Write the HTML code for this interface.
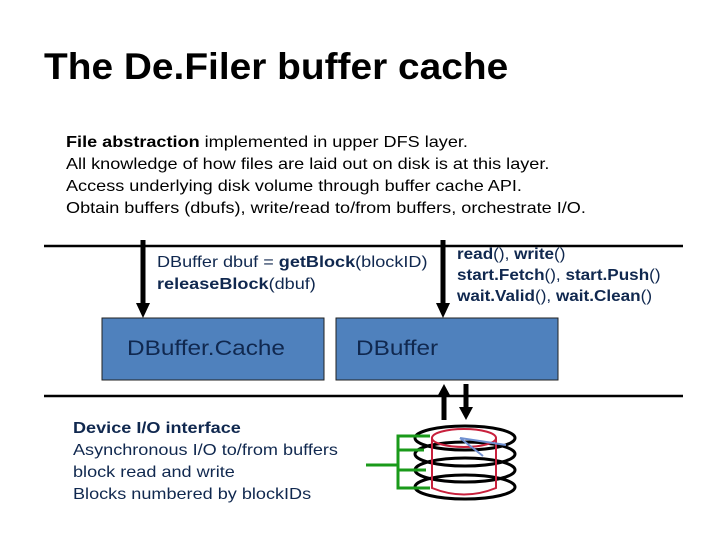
<!DOCTYPE html><html><head><style>
body{margin:0;width:720px;height:540px;background:#fff;position:relative;font-family:"Liberation Sans",sans-serif;overflow:hidden}
.t{position:absolute;white-space:nowrap;transform-origin:0 0}
</style></head><body>
<div class="t" style="left:44px;top:46px;font-size:37px;font-weight:bold;color:#000;transform:scaleX(1.05)">The De.Filer buffer cache</div>
<div class="t" style="left:66px;top:132px;font-size:16px;line-height:22px;color:#000;transform:scaleX(1.13)">
<b>File abstraction</b> implemented in upper DFS layer.<br>All knowledge of how files are laid out on disk is at this layer.<br>Access underlying disk volume through buffer cache API.<br>Obtain buffers (dbufs), write/read to/from buffers, orchestrate I/O.</div>
<svg style="position:absolute;left:0;top:0" width="720" height="540">
<line x1="44" y1="246" x2="683" y2="246" stroke="#000" stroke-width="2.5"/>
<line x1="44" y1="396" x2="683" y2="396" stroke="#000" stroke-width="2.5"/>
<rect x="102" y="318" width="222" height="62" fill="#4f81bd" stroke="#222" stroke-width="1"/>
<rect x="336" y="318" width="222" height="62" fill="#4f81bd" stroke="#222" stroke-width="1"/>
<line x1="143" y1="240" x2="143" y2="304" stroke="#000" stroke-width="5"/>
<polygon points="136,303 150,303 143,318" fill="#000"/>
<line x1="443" y1="240" x2="443" y2="304" stroke="#000" stroke-width="5"/>
<polygon points="436,303 450,303 443,318" fill="#000"/>
<line x1="444" y1="395" x2="444" y2="420" stroke="#000" stroke-width="5"/>
<polygon points="437,397 451,397 444,384" fill="#000"/>
<line x1="466" y1="384" x2="466" y2="409" stroke="#000" stroke-width="5"/>
<polygon points="459,407 473,407 466,420" fill="#000"/>
<g fill="none" stroke="#000" stroke-width="3">
<ellipse cx="465" cy="487" rx="50" ry="12"/><ellipse cx="465" cy="470" rx="50" ry="12"/><ellipse cx="465" cy="454" rx="50" ry="12"/><ellipse cx="465" cy="438" rx="50" ry="12"/></g>
<g fill="none" stroke="#c8203c" stroke-width="2">
<ellipse cx="464" cy="438" rx="32" ry="9"/><path d="M432 438V488Q464 501 496 488V438"/></g>
<path d="M460 438L506 445M460 438L483 456" stroke="#6f8fd0" stroke-width="2" fill="none"/>
<g stroke="#1a9a1a" stroke-width="3" fill="none">
<path d="M430 436H398V488H430M398 450H424M398 470H426M366 465H398"/></g>
</svg>
<div class="t" style="left:157px;top:252px;font-size:16px;line-height:22px;color:#10284f;transform:scaleX(1.13)">DBuffer dbuf = <b>getBlock</b>(blockID)<br><b>releaseBlock</b>(dbuf)</div>
<div class="t" style="left:457px;top:244px;font-size:16px;line-height:21px;color:#10284f;transform:scaleX(1.07)"><b>read</b>(), <b>write</b>()<br><b>start.Fetch</b>(), <b>start.Push</b>()<br><b>wait.Valid</b>(), <b>wait.Clean</b>()</div>
<div class="t" style="left:127px;top:337px;font-size:21px;color:#10284f;transform:scaleX(1.16)">DBuffer.Cache</div>
<div class="t" style="left:356px;top:337px;font-size:21px;color:#10284f;transform:scaleX(1.16)">DBuffer</div>
<div class="t" style="left:73px;top:418px;font-size:16px;line-height:22px;color:#10284f;transform:scaleX(1.13)"><b>Device I/O interface</b><br>Asynchronous I/O to/from buffers<br>block read and write<br>Blocks numbered by blockIDs</div>
</body></html>
